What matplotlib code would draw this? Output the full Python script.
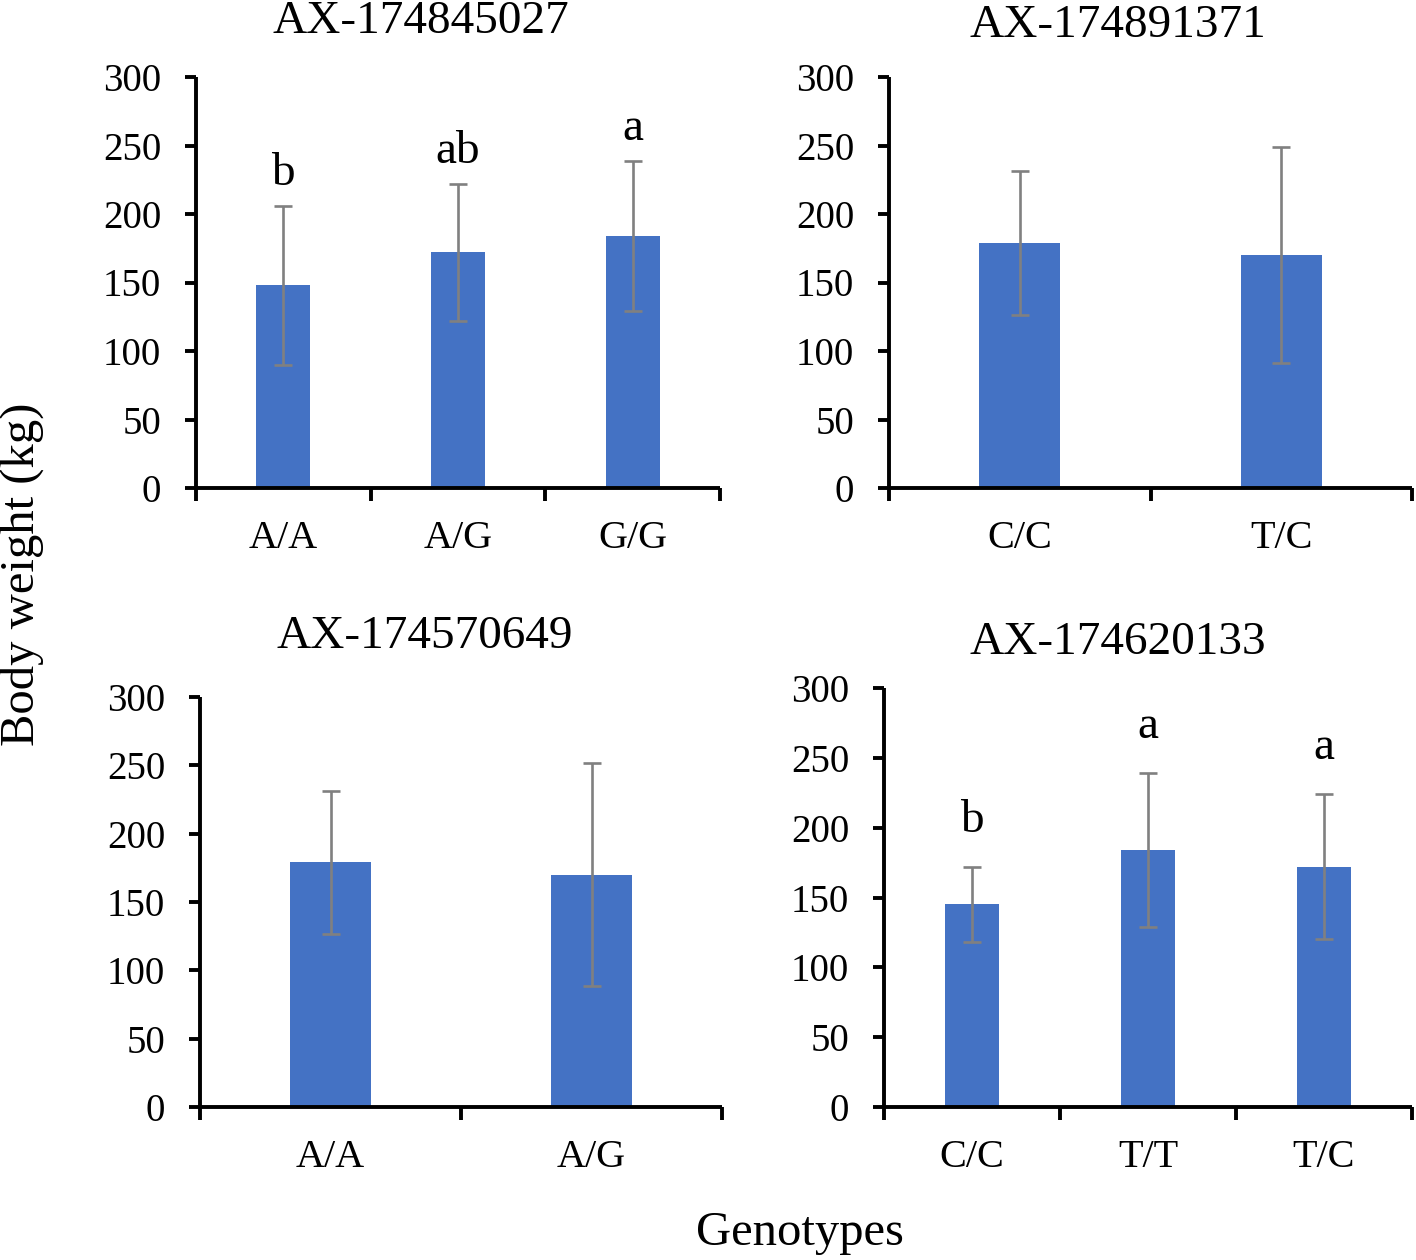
import matplotlib
matplotlib.use("Agg")
import matplotlib.pyplot as plt
import numpy as np

plt.rcParams['font.family'] = ['Liberation Serif', 'DejaVu Serif']

# ---- data ----
titles = ["AX-174845027", "AX-174891371", "AX-174570649", "AX-174620133"]
genotypes = [["A/A", "A/G", "G/G"], ["C/C", "T/C"], ["A/A", "A/G"], ["C/C", "T/T", "T/C"]]
means = [[148, 172, 184], [179, 170], [179, 170], [145, 184, 172]]
sds = [[58, 50, 55], [52.5, 79], [52.5, 81.5], [27, 55, 52]]
letters = [["b", "ab", "a"], [], [], ["b", "a", "a"]]

yticks = [0, 50, 100, 150, 200, 250, 300]

# ---- layout ----
W, H = 1416, 1260
fig = plt.figure(figsize=(W / 100, H / 100), dpi=100)

def px_axes(l, r, t, b):
    return [l / W, 1 - b / H, (r - l) / W, (b - t) / H]

rects = [px_axes(196, 720, 77, 488), px_axes(889, 1412, 77, 488),
         px_axes(200, 722, 697, 1107), px_axes(884, 1412, 688, 1107)]
title_pos = [(421, 22), (1118, 26), (425, 637), (1118, 643)]
letter_offset = [15, 0, 0, 25]

bar_color = "#4472C4"
err_color = "#808080"

for i in range(4):
    ax = fig.add_axes(rects[i])
    n = len(genotypes[i])
    x = np.arange(n)
    ax.bar(x, means[i], width=0.31, color=bar_color, zorder=2)
    ax.errorbar(x, means[i], yerr=sds[i], fmt='none', ecolor=err_color,
                elinewidth=1.9, capsize=6.5, capthick=1.9, zorder=3)
    for j, lab in enumerate(letters[i]):
        ax.text(x[j], means[i][j] + sds[i][j] + letter_offset[i], lab,
                ha='center', va='baseline', fontsize=34)
    ax.set_xlim(-0.5, n - 0.5)
    ax.set_ylim(0, 300)
    ax.set_yticks(yticks)
    ax.set_yticklabels([str(v) for v in yticks], fontsize=28)
    ax.set_xticks(np.arange(n + 1) - 0.5)
    ax.set_xticklabels([])
    ax.set_xticks(x, minor=True)
    ax.set_xticklabels(genotypes[i], minor=True, fontsize=29)
    ax.tick_params(axis='x', which='minor', length=0, pad=23)
    ax.tick_params(axis='x', which='major', length=9, width=2.8, direction='out')
    ax.tick_params(axis='y', length=8, width=2.8, direction='out', pad=17)
    for s in ['top', 'right']:
        ax.spines[s].set_visible(False)
    for s in ['left', 'bottom']:
        ax.spines[s].set_linewidth(2.8)
        ax.spines[s].set_capstyle('butt')
    fig.text(title_pos[i][0] / W, 1 - title_pos[i][1] / H, titles[i],
             ha='center', va='center', fontsize=34)

fig.text(22 / W, 1 - 574 / H, "Body weight (kg)", rotation=90,
         ha='center', va='center', fontsize=35)
fig.text(800 / W, 1 - 1233 / H, "Genotypes", ha='center', va='center', fontsize=35)

fig.savefig("out.png", dpi=100)
